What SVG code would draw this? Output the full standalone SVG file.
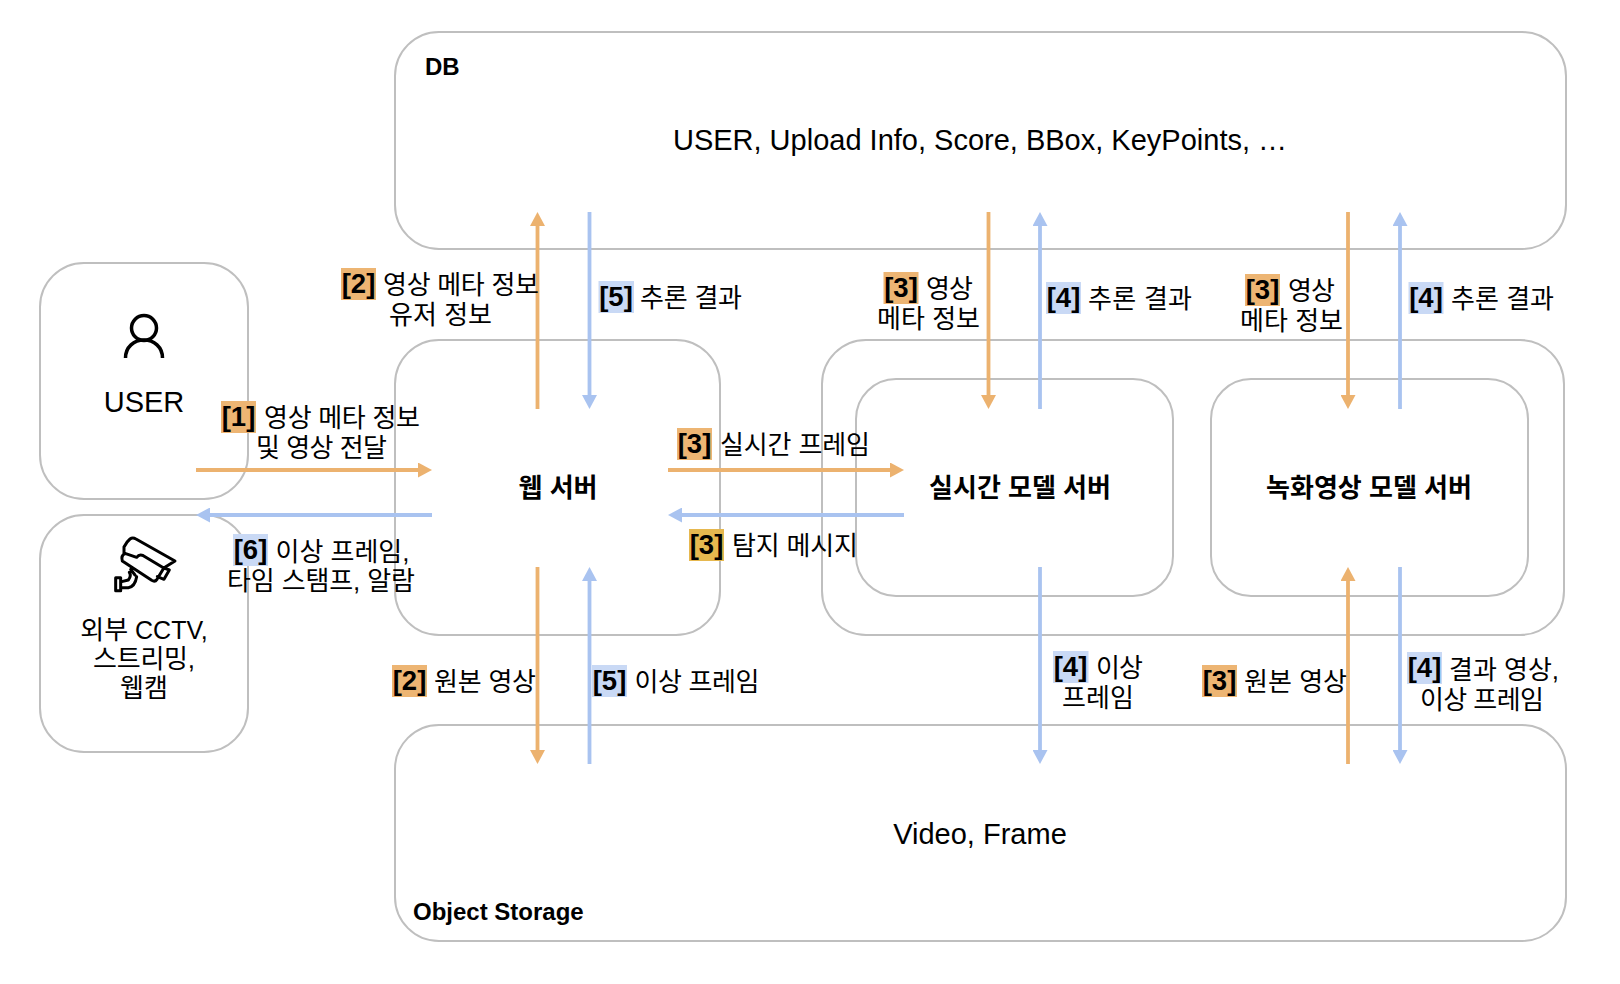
<svg xmlns="http://www.w3.org/2000/svg" width="1620" height="984" viewBox="0 0 1620 984">
<style>
text{font-family:"Liberation Sans","Noto Sans CJK KR",sans-serif;fill:#000}
.box{fill:none;stroke:#bfbfbf;stroke-width:2}
.c{stroke-width:3.8;fill:none}
.o{stroke:#ecb26f;marker-end:url(#ho)}
.b{stroke:#a9c3f0;marker-end:url(#hb)}
.k{font-size:26px}
.lat{font-size:29px;text-anchor:middle}
.m{text-anchor:middle}
.tag{font-size:27.500px;font-weight:700;text-anchor:middle}
.title{font-size:26px;font-weight:700}
.sec{font-size:24px;font-weight:700}
.ro{fill:#edb573}.rb{fill:#c9d9f5}.ry{fill:#e6b84f}
.ic{fill:none;stroke:#000;stroke-width:9;stroke-linejoin:round;stroke-linecap:round}
</style>
<defs>
<marker id="ho" markerUnits="userSpaceOnUse" markerWidth="15" markerHeight="15" refX="2" refY="7.500" orient="auto"><path d="M0 0L14 7.500L0 15z" fill="#ecb26f"/></marker>
<marker id="hb" markerUnits="userSpaceOnUse" markerWidth="15" markerHeight="15" refX="2" refY="7.500" orient="auto"><path d="M0 0L14 7.500L0 15z" fill="#a9c3f0"/></marker>
</defs>
<rect width="1620" height="984" fill="#fff"/>
<g id="db"><rect class="box" x="395" y="32" width="1171" height="217" rx="44"/><text class="sec" x="425" y="75">DB</text><text class="lat" x="980" y="150">USER, Upload Info, Score, BBox, KeyPoints, …</text></g>
<g id="storage"><rect class="box" x="395" y="725" width="1171" height="216" rx="44"/><text class="sec" x="413" y="920">Object Storage</text><text class="lat" x="980" y="844">Video, Frame</text></g>
<g id="user"><rect class="box" x="40" y="263" width="208" height="236" rx="44"/>
<circle class="ic" cx="144" cy="328" r="12.500" style="stroke-width:3.500"/><path class="ic" style="stroke-width:3.500;stroke-linecap:butt" d="M125.500 358C125.500 347 134 340 144 340C154 340 162.500 347 162.500 358"/>
<text class="lat" x="144" y="412">USER</text></g>
<g id="cctv"><rect class="box" x="40" y="515" width="208" height="237" rx="44"/>
<g transform="translate(100 525) scale(.3333)"><path class="ic" d="M72 84L72 66Q80 50 90 42Q98 36 108 42L225 108L190 130M75 85Q62 92 67 108L155 166Q165 172 171 163L192 128M75 85L110 97Q118 86 130 92L190 128M195 130L208 135L192 163L172 155M92 133L105 150M88 142Q95 152 85 165L65 170M110 155Q105 185 85 188L65 188"/><rect class="ic" x="47" y="158" width="15" height="39"/></g>
<text class="m" x="144" y="639"><tspan class="k">외부</tspan><tspan font-size="25"> CCTV,</tspan></text>
<text class="m k" x="144" y="668" textLength="102">스트리밍,</text><text class="m k" x="144" y="697">웹캠</text></g>
<g id="web"><rect class="box" x="395" y="340" width="325" height="295" rx="44"/><text class="title m" x="558" y="496.500">웹 서버</text></g>
<g id="model-group"><rect class="box" x="822" y="340" width="742" height="295" rx="44"/></g>
<g id="realtime"><rect class="box" x="856" y="379" width="317" height="217" rx="40"/><text class="title m" x="1020" y="496.500">실시간 모델 서버</text></g>
<g id="recorded"><rect class="box" x="1211" y="379" width="317" height="217" rx="40"/><text class="title m" x="1369" y="496.500">녹화영상 모델 서버</text></g>
<g id="connectors">
<path class="c o" d="M196 470H420"/><path class="c b" d="M432 515H208"/>
<path class="c o" d="M668 470H892"/><path class="c b" d="M904 515H680"/>
<path class="c o" d="M537.500 409V224"/><path class="c b" d="M589.500 212V397"/>
<path class="c o" d="M537.500 567V752"/><path class="c b" d="M589.500 764V579"/>
<path class="c o" d="M988.500 212V397"/><path class="c b" d="M1040 409V224"/>
<path class="c o" d="M1348 212V397"/><path class="c b" d="M1400 409V224"/>
<path class="c b" d="M1040 567V752"/>
<path class="c o" d="M1348 764V579"/><path class="c b" d="M1400 567V752"/>
</g>
<g id="labels">
<g><rect class="ro" x="221" y="401" width="35" height="32"/><text class="tag" x="238.500" y="426">[1]</text><text class="k" x="264" y="426.500" textLength="156">영상 메타 정보</text><text class="k" x="256" y="456.500" textLength="131">및 영상 전달</text></g>
<g><rect class="ro" x="341" y="268" width="35" height="32"/><text class="tag" x="358.500" y="293">[2]</text><text class="k" x="383" y="293.500" textLength="156">영상 메타 정보</text><text class="k" x="389" y="323.500" textLength="103">유저 정보</text></g>
<g><rect class="rb" x="598.500" y="281" width="35.500" height="32"/><text class="tag" x="616" y="306">[5]</text><text class="k" x="640" y="306.500" textLength="102">추론 결과</text></g>
<g><rect class="ro" x="677" y="428" width="35" height="32"/><text class="tag" x="694.500" y="453">[3]</text><text class="k" x="720" y="453.500" textLength="150">실시간 프레임</text></g>
<g><rect class="ry" x="689" y="529" width="35" height="32"/><text class="tag" x="706.500" y="554">[3]</text><text class="k" x="732" y="555" textLength="126">탐지 메시지</text></g>
<g><rect class="rb" x="233" y="534" width="35" height="32"/><text class="tag" x="250.500" y="559">[6]</text><text class="k" x="275.500" y="560.500" textLength="134">이상 프레임,</text><text class="k" x="227" y="589.500" textLength="188">타임 스탬프, 알람</text></g>
<g><rect class="ro" x="392" y="665" width="35" height="32"/><text class="tag" x="409.500" y="690">[2]</text><text class="k" x="434" y="690.500" textLength="102">원본 영상</text></g>
<g><rect class="rb" x="592" y="665" width="35" height="32"/><text class="tag" x="609.500" y="690">[5]</text><text class="k" x="634.500" y="690.500" textLength="125">이상 프레임</text></g>
<g><rect class="ro" x="883.500" y="272" width="35" height="32"/><text class="tag" x="901" y="297">[3]</text><text class="k" x="926" y="297.500" textLength="47">영상</text><text class="k" x="877" y="327.500" textLength="103">메타 정보</text></g>
<g><rect class="rb" x="1046" y="282" width="35" height="32"/><text class="tag" x="1063.500" y="307">[4]</text><text class="k" x="1088" y="307.500" textLength="104">추론 결과</text></g>
<g><rect class="ro" x="1245" y="274" width="35" height="32"/><text class="tag" x="1262.500" y="299">[3]</text><text class="k" x="1288" y="299.500" textLength="47">영상</text><text class="k" x="1240" y="329.500" textLength="103">메타 정보</text></g>
<g><rect class="rb" x="1408.500" y="282" width="35" height="32"/><text class="tag" x="1426" y="307">[4]</text><text class="k" x="1451" y="307.500" textLength="103">추론 결과</text></g>
<g><rect class="rb" x="1053" y="651" width="35.500" height="32"/><text class="tag" x="1070.500" y="676">[4]</text><text class="k" x="1096" y="676.500" textLength="47">이상</text><text class="k" x="1062" y="706.500" textLength="72">프레임</text></g>
<g><rect class="ro" x="1202" y="665" width="35" height="32"/><text class="tag" x="1219.500" y="690">[3]</text><text class="k" x="1244" y="691" textLength="103">원본 영상</text></g>
<g><rect class="rb" x="1407" y="652" width="35" height="32"/><text class="tag" x="1424.500" y="677">[4]</text><text class="k" x="1449" y="678.500" textLength="110">결과 영상,</text><text class="k" x="1420" y="708.500" textLength="124">이상 프레임</text></g>
</g>
</svg>
